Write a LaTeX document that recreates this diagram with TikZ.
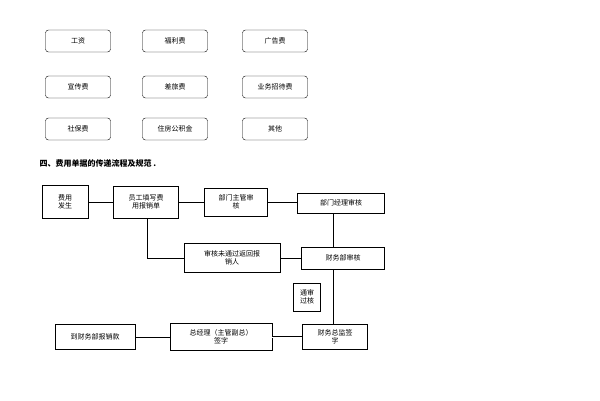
\documentclass[tikz,border=0pt]{standalone}
\usepackage{fontspec}
\setmainfont{Noto Sans CJK SC}
\tikzset{
  costbox/.style={draw, rounded corners=3pt, minimum width=65pt, minimum height=22pt, font=\fontsize{7}{8}\selectfont},
  flowbox/.style={draw, thick, align=center, inner sep=1pt, font=\fontsize{7}{8}\selectfont},
  link/.style={thick}
}
\begin{document}
\begin{tikzpicture}[x=1pt, y=-1pt]
	\useasboundingbox (0,0) rectangle (600,400);
	% expense items
	\node [costbox] (gz) at (78,41) {工资};
	\node [costbox] (fl) at (175,41) {福利费};
	\node [costbox] (gg) at (275,41) {广告费};
	\node [costbox] (xc) at (78,87) {宣传费};
	\node [costbox] (cl) at (175,87) {差旅费};
	\node [costbox] (zd) at (275,87) {业务招待费};
	\node [costbox] (sb) at (78,129) {社保费};
	\node [costbox] (gj) at (175,129) {住房公积金};
	\node [costbox] (qt) at (275,129) {其他};
	\node [anchor=west, font=\fontsize{8}{9}\selectfont\bfseries] (title) at (36,163) {四、费用单据的传递流程及规范 .};
	% flow
	\node [flowbox, minimum width=46pt, minimum height=33pt] (fs) at (65,202) {费用\\发生};
	\node [flowbox, minimum width=65pt, minimum height=32pt] (tx) at (146,202) {员工填写费\\用报销单};
	\node [flowbox, minimum width=63pt, minimum height=28pt] (zg) at (236,202) {部门主管审\\核};
	\node [flowbox, minimum width=87pt, minimum height=20pt] (jl) at (341,203) {部门经理审核};
	\node [flowbox, minimum width=96pt, minimum height=29pt] (fh) at (232,258) {审核未通过返回报\\销人};
	\node [flowbox, minimum width=83pt, minimum height=22pt] (cw) at (343,258) {财务部审核};
	\node [flowbox, minimum width=27pt, minimum height=28pt] (tg) at (307,297) {通审\\过核};
	\node [flowbox, minimum width=65pt, minimum height=25pt] (zj) at (335,337) {财务总监签\\字};
	\node [flowbox, minimum width=102pt, minimum height=27pt] (zjl) at (221,337) {总经理（主管副总）\\签字};
	\node [flowbox, minimum width=80pt, minimum height=25pt] (bx) at (95,337) {到财务部报销款};
	\coordinate (back) at (147,258);
	\coordinate (vline) at (333,0);
	\draw [link] (fs) -- (tx);
	\draw [link] (tx) -- (zg);
	\draw [link] (zg.east) -- (jl.west |- zg.east);
	\draw [link] (jl.south -| vline) -- (cw.north -| vline);
	\draw [link] (cw) -- (fh);
	\draw [link] (fh.west) -- (back) -- (tx.south -| back);
	\draw [link] (cw.south -| vline) -- (zj.north -| vline);
	\draw [link, double] (zj) -- (zjl);
	\draw [link] (zjl) -- (bx);
\end{tikzpicture}
\end{document}
